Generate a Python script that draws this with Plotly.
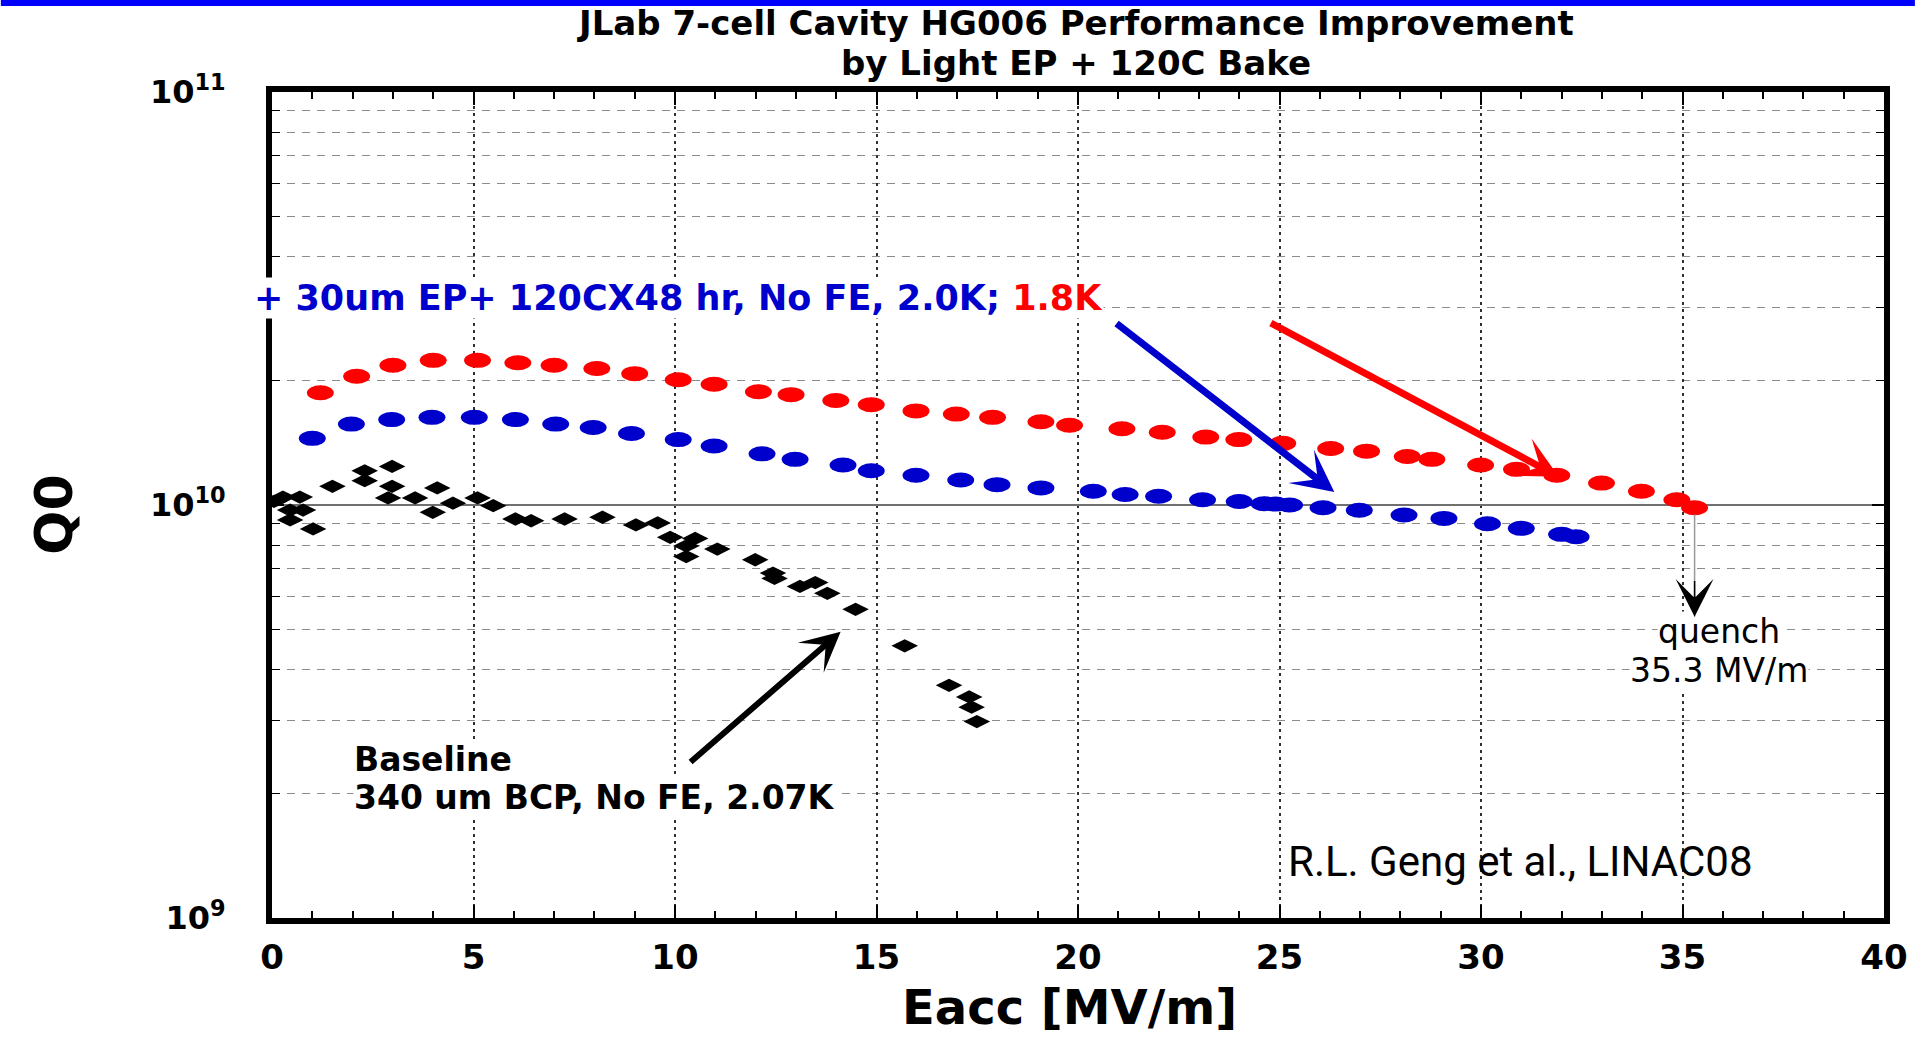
import math
import plotly.graph_objects as go

# JLab 7-cell cavity HG006: Q0 vs accelerating gradient Eacc [MV/m]
# After light EP + 120C bake, measured at 1.8 K
eacc_18k = [1.2, 2.1, 3.0, 4.0, 5.1, 6.1, 7.0, 8.06, 9.0, 10.08, 10.97, 12.07,
            12.88, 13.99, 14.87, 15.98, 16.98, 17.88, 19.08, 19.79, 21.09, 22.09,
            23.17, 23.99, 25.08, 26.27, 27.16, 28.17, 28.78, 29.99, 30.88, 31.88,
            32.99, 33.98, 34.86, 35.3]
q0_18k = [1.87e10, 2.05e10, 2.18e10, 2.24e10, 2.24e10, 2.21e10, 2.18e10, 2.14e10,
          2.08e10, 2.01e10, 1.96e10, 1.88e10, 1.85e10, 1.79e10, 1.75e10, 1.69e10,
          1.66e10, 1.63e10, 1.59e10, 1.56e10, 1.53e10, 1.50e10, 1.46e10, 1.44e10,
          1.41e10, 1.37e10, 1.35e10, 1.31e10, 1.29e10, 1.25e10, 1.22e10, 1.18e10,
          1.13e10, 1.08e10, 1.03e10, 9.85e9]

# Same treatment, measured at 2.0 K
eacc_20k = [1.0, 1.97, 2.97, 3.97, 5.02, 6.04, 7.04, 7.97, 8.92, 10.08, 10.97, 12.16,
            12.98, 14.17, 14.87, 15.98, 17.09, 17.99, 19.08, 20.38, 21.17, 22.0,
            23.09, 24.0, 24.62, 24.9, 25.25, 26.08, 26.98, 28.09, 29.08, 30.16,
            31.0, 32.0, 32.36]
q0_20k = [1.45e10, 1.57e10, 1.61e10, 1.63e10, 1.63e10, 1.61e10, 1.57e10, 1.54e10,
          1.49e10, 1.44e10, 1.39e10, 1.33e10, 1.29e10, 1.25e10, 1.21e10, 1.18e10,
          1.15e10, 1.12e10, 1.10e10, 1.08e10, 1.06e10, 1.05e10, 1.03e10, 1.02e10,
          1.007e10, 1.005e10, 1.0e10, 9.85e9, 9.71e9, 9.46e9, 9.28e9, 9.01e9,
          8.78e9, 8.49e9, 8.38e9]

# Baseline: 340 um BCP, 2.07 K
eacc_base = [0.05, 0.27, 0.45, 0.45, 0.69, 0.77, 1.02, 1.5, 2.3, 2.3, 2.88, 2.98,
             2.98, 3.55, 3.99, 4.1, 4.49, 5.1, 5.49, 6.04, 6.43, 7.26, 8.2, 9.03,
             9.57, 9.88, 10.28, 10.28, 10.5, 11.05, 11.99, 12.43, 12.47, 13.1,
             13.48, 13.78, 14.48, 15.7, 16.8, 17.3, 17.36, 17.49]
q0_base = [10.2e9, 10.45e9, 9.72e9, 9.2e9, 10.45e9, 9.72e9, 8.75e9, 11.1e9, 12.1e9,
           11.45e9, 10.4e9, 12.4e9, 11.1e9, 10.4e9, 9.6e9, 11.0e9, 10.1e9, 10.4e9,
           9.96e9, 9.25e9, 9.16e9, 9.25e9, 9.34e9, 8.95e9, 9.05e9, 8.35e9, 7.96e9,
           7.5e9, 8.3e9, 7.82e9, 7.37e9, 6.84e9, 6.64e9, 6.35e9, 6.49e9, 6.11e9,
           5.59e9, 4.56e9, 3.66e9, 3.43e9, 3.24e9, 2.99e9]

# Axis ticks
x_ticks = [0, 5, 10, 15, 20, 25, 30, 35, 40]
y_ticks = [1e9, 1e10, 1e11]
y_tick_text = ["10<sup>9</sup>", "10<sup>10</sup>", "10<sup>11</sup>"]
y_minor = [m * 10 ** d for d in (9, 10) for m in range(2, 10)]

RED = "#ff0000"
BLUE = "#0000cc"
BOLD = dict(family="DejaVu Sans", color="black", weight="bold")
PLAIN = dict(family="DejaVu Sans", color="black")

W, H = 1920, 1037
ML, MR, MT, MB = 272, 31, 92, 119
PW, PH = W - ML - MR, H - MT - MB
X_RANGE = (0, 40)
Y_DECADES = 2


def px(x):
    return (x - ML) / PW


def py(y):
    return (H - MB - y) / PH


fig = go.Figure()

fig.add_trace(go.Scatter(x=eacc_base, y=q0_base, mode="markers", name="Baseline",
                         marker=dict(symbol="diamond-wide", size=19, color="black",
                                     line=dict(width=0))))
fig.add_trace(go.Scatter(x=eacc_20k, y=q0_20k, mode="markers", name="2.0K",
                         marker=dict(symbol="circle", size=14, color=BLUE,
                                     line=dict(width=0))))
fig.add_trace(go.Scatter(x=eacc_18k, y=q0_18k, mode="markers", name="1.8K",
                         marker=dict(symbol="circle", size=14, color=RED,
                                     line=dict(width=0))))

# wide elliptical dots (27 x 15 px) centred on each data point
HALF_W_PX, HALF_H_PX = 13.5, 7.5
dx = HALF_W_PX * (X_RANGE[1] - X_RANGE[0]) / PW
ky = 10 ** (HALF_H_PX * Y_DECADES / PH)


def ellipses(xs, ys, color):
    return [dict(type="circle", xref="x", yref="y", x0=x - dx, x1=x + dx,
                 y0=y / ky, y1=y * ky, fillcolor=color, line=dict(width=0),
                 layer="above") for x, y in zip(xs, ys)]


shapes = ellipses(eacc_20k, q0_20k, BLUE) + ellipses(eacc_18k, q0_18k, RED)
# top banner stripe
shapes.append(dict(type="rect", xref="paper", yref="paper", x0=px(0), x1=px(W),
                   y0=py(6), y1=py(0), fillcolor="#0000ff", line=dict(width=0)))


def arrow(tip, tail, color, width, size, head=3):
    return dict(x=tip[0], y=math.log10(tip[1]), ax=tail[0], ay=math.log10(tail[1]),
                xref="x", yref="y", axref="x", ayref="y", text="", showarrow=True,
                arrowhead=head, arrowwidth=width, arrowsize=size, arrowcolor=color,
                standoff=0, startstandoff=0)


def label(text, x, y, size, xanchor="center", font=None, bg=None, angle=0):
    f = dict(BOLD if font is None else font)
    f["size"] = size
    d = dict(text=text, x=x, y=y, xref="paper", yref="paper", showarrow=False,
             xanchor=xanchor, yanchor="middle", font=f, borderpad=0, textangle=angle)
    if bg:
        d["bgcolor"] = bg
    return d


quench_e = eacc_18k[-1]
annotations = [
    label("JLab 7-cell Cavity HG006 Performance Improvement", px(1078), py(23), 34),
    label("by Light EP + 120C Bake", px(1078), py(63), 34),
    label("+ 30um EP+ 120CX48 hr, No FE, 2.0K; "
          "<span style='color:%s'>1.8K</span>" % RED,
          px(253), py(298), 35, xanchor="left",
          font=dict(family="DejaVu Sans", color=BLUE, weight="bold"), bg="white"),
    # second line first so the first line's box sits on top of it
    label("340 um BCP, No FE, 2.07K", px(353), py(797.5), 33, xanchor="left",
          bg="white"),
    label("Baseline", px(353), py(759), 33, xanchor="left", bg="white"),
    label("%.1f MV/m" % quench_e, px(1723), py(670), 33, font=PLAIN, bg="white"),
    label("quench", px(1723), py(631), 33, font=PLAIN, bg="white"),
    label("R.L. Geng et al., LINAC08", px(1290), py(861), 42, xanchor="left",
          font=dict(family="Roboto", color="black")),
    label("Q0", px(53), py(515), 52, angle=-90),
    label("Eacc [MV/m]", px(1072), py(1007), 48),
    arrow((26.36, 1.075e10), (20.92, 2.77e10), BLUE, 7, 1.0),
    arrow((31.93, 1.17e10), (24.75, 2.77e10), RED, 7, 1.0),
    arrow((14.11, 4.93e9), (10.35, 2.37e9), "black", 6, 1.1),
    arrow((quench_e, 5.36e9), (quench_e, 9.56e9), "#9a9a9a", 1.5, 1, head=0),
    arrow((quench_e, 5.36e9), (quench_e, 6.6e9), "black", 1.5, 4.2),
]

fig.update_layout(
    width=W, height=H,
    margin=dict(l=ML, r=MR, t=MT, b=MB, pad=0),
    paper_bgcolor="white", plot_bgcolor="white",
    showlegend=False,
    shapes=shapes,
    annotations=annotations,
    xaxis=dict(
        range=list(X_RANGE), tickvals=x_ticks, ticktext=[str(v) for v in x_ticks],
        showline=True, linewidth=6, linecolor="black", mirror="ticks",
        ticks="inside", ticklen=13, tickwidth=1.5, tickcolor="black",
        showgrid=True, gridcolor="#303030", gridwidth=2, griddash="2.5px,4.5px",
        zeroline=False, ticklabelstandoff=4,
        tickfont=dict(family="DejaVu Sans", size=34, color="black", weight="bold"),
        minor=dict(dtick=1, ticks="inside", ticklen=7, tickwidth=1.5,
                   tickcolor="black", showgrid=False),
    ),
    yaxis=dict(
        type="log", range=[9, 9 + Y_DECADES], tickvals=y_ticks, ticktext=y_tick_text,
        showline=True, linewidth=6, linecolor="black", mirror="ticks",
        ticks="inside", ticklen=12, tickwidth=1.5, tickcolor="black",
        showgrid=True, gridcolor="#707070", gridwidth=1.5,
        zeroline=False, ticklabelstandoff=34,
        tickfont=dict(family="DejaVu Sans", size=32, color="black", weight="bold"),
        minor=dict(tickvals=y_minor, ticks="inside", ticklen=8, tickwidth=1.2,
                   tickcolor="black", showgrid=True, gridcolor="#8c8c8c",
                   gridwidth=1.2, griddash="8px,7px"),
    ),
)

fig.write_html("out.html")
